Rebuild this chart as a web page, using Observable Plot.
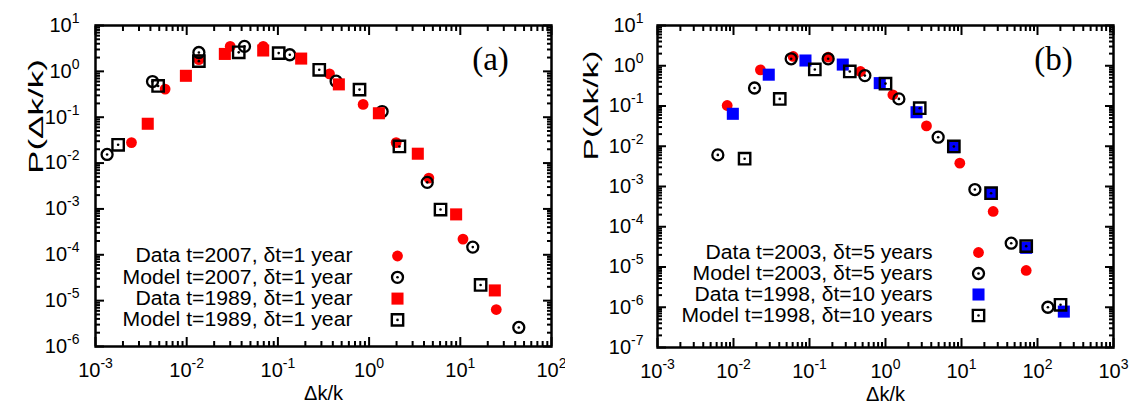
<!DOCTYPE html>
<html><head><meta charset="utf-8">
<script src="https://cdn.jsdelivr.net/npm/d3@7"></script>
<script src="https://cdn.jsdelivr.net/npm/@observablehq/plot@0.6"></script>
<style>
body{margin:0;background:#fff;}
#wrap{display:flex;width:1130px;height:410px;overflow:hidden;}
#wrap svg{display:block;overflow:visible;}
</style></head><body><div id="wrap"></div>
<script>
// ---------- Panel (a) data ----------
const aData2007X  = [0.00248, 0.0058, 0.0136, 0.030, 0.069, 0.368, 0.86, 1.98, 4.52, 10.7, 24.8];
const aData2007Y  = [0.028, 0.41, 1.8, 3.5, 3.5, 0.88, 0.19, 0.028, 0.0047, 2.2e-4, 6.4e-6];
const aModel2007X = [0.00134, 0.00422, 0.0136, 0.043, 0.135, 0.435, 1.39, 4.34, 13.7, 43.8];
const aModel2007Y = [0.0154, 0.60, 2.58, 3.5, 2.3, 0.61, 0.133, 0.0038, 1.47e-4, 2.6e-6];
const aData1989X  = [0.00374, 0.0098, 0.0262, 0.069, 0.18, 0.466, 1.28, 3.42, 9.0, 23.9];
const aData1989Y  = [0.072, 0.80, 2.4, 2.85, 1.9, 0.52, 0.122, 0.016, 7.6e-4, 1.67e-5];
const aModel1989X = [0.00177, 0.00486, 0.0136, 0.0372, 0.102, 0.284, 0.785, 2.15, 6.07, 16.7];
const aModel1989Y = [0.025, 0.48, 1.67, 2.6, 2.5, 1.08, 0.40, 0.023, 9.7e-4, 2.2e-5];
const aLegend = ["Data t=2007, \u03b4t=1 year", "Model t=2007, \u03b4t=1 year",
                 "Data t=1989, \u03b4t=1 year", "Model t=1989, \u03b4t=1 year"];

// ---------- Panel (b) data ----------
const bData2003X  = [0.00826, 0.0226, 0.061, 0.176, 0.469, 1.25, 3.46, 9.5, 26.1, 71];
const bData2003Y  = [0.103, 0.79, 1.7, 1.63, 0.72, 0.19, 0.032, 0.0038, 2.4e-4, 8.2e-6];
const bModel2003X = [0.00622, 0.0189, 0.0574, 0.176, 0.535, 1.5, 4.93, 15.0, 45.1, 137];
const bModel2003Y = [0.0061, 0.28, 1.49, 1.49, 0.57, 0.15, 0.0168, 8.4e-4, 3.9e-5, 1.0e-6];
const bData1998X  = [0.0098, 0.0291, 0.0885, 0.274, 0.84, 2.56, 7.93, 24.8, 71, 222];
const bData1998Y  = [0.064, 0.6, 1.35, 1.07, 0.37, 0.070, 0.0095, 6.6e-4, 3.0e-5, 7.8e-7];
const bModel1998X = [0.014, 0.0406, 0.1175, 0.339, 1.0, 2.82, 7.93, 24.5, 71, 201];
const bModel1998Y = [0.0049, 0.15, 0.81, 0.72, 0.36, 0.088, 0.0099, 6.8e-4, 3.3e-5, 1.15e-6];
const bLegend = ["Data t=2003, \u03b4t=5 years", "Model t=2003, \u03b4t=5 years",
                 "Data t=1998, \u03b4t=10 years", "Model t=1998, \u03b4t=10 years"];

// tick exponents
const aXExp = [-3, -2, -1, 0, 1, 2];
const aYExp = [-6, -5, -4, -3, -2, -1, 0, 1];
const bXExp = [-3, -2, -1, 0, 1, 2, 3];
const bYExp = [-7, -6, -5, -4, -3, -2, -1, 0, 1];

const SANS = "'Liberation Sans', Arial, Helvetica, sans-serif";
const SERIF = "'Liberation Serif', 'Times New Roman', serif";
const RED = "#ff0000", BLUE = "#0000ff";
const YTITLE = "P(\u0394k/k)", XTITLE = "\u0394k/k";

const zip = (xs, ys) => xs.map((x, i) => ({x, y: ys[i]}));
const majors = exps => exps.map(e => Math.pow(10, e));
const minors = exps => exps.slice(0, -1).flatMap(e => d3.range(2, 10).map(m => m * Math.pow(10, e)));

// symbol marks: kind = "dot" | "ring" | "sq" | "osq"
function sym(kind, color, data, extra) {
  const o = Object.assign({}, extra || {});
  if (data) { o.x = "x"; o.y = "y"; }
  const d = data || [0];
  if (kind === "dot") return [Plot.dot(d, {...o, r: 5.4, fill: color, stroke: null})];
  if (kind === "sq") return [Plot.dot(d, {...o, symbol: "square", r: 6.8, fill: color, stroke: null})];
  if (kind === "ring") return [
    Plot.dot(d, {...o, r: 5.5, fill: "none", stroke: "black", strokeWidth: 2.3}),
    Plot.dot(d, {...o, r: 1.3, fill: "black", stroke: null})];
  if (kind === "osq") return [
    Plot.dot(d, {...o, symbol: "square", r: 6.4, fill: "none", stroke: "black", strokeWidth: 2.4}),
    Plot.dot(d, {...o, r: 1.3, fill: "black", stroke: null})];
}

function panel(cfg) {
  const fmt = d => "E" + Math.round(Math.log10(d));
  const tickAxes = [];
  for (const [vals, len] of [[majors(cfg.xExp), 9], [minors(cfg.xExp), 5]]) {
    tickAxes.push(Plot.axisX(vals, {anchor: "bottom", tickSize: len, dy: -len, tickFormat: () => "", label: null, strokeWidth: 2}));
    tickAxes.push(Plot.axisX(vals, {anchor: "top", tickSize: len, dy: len, tickFormat: () => "", label: null, strokeWidth: 2}));
  }
  for (const [vals, len] of [[majors(cfg.yExp), 9], [minors(cfg.yExp), 5]]) {
    tickAxes.push(Plot.axisY(vals, {anchor: "left", tickSize: len, dx: len, tickFormat: () => "", label: null, strokeWidth: 2}));
    tickAxes.push(Plot.axisY(vals, {anchor: "right", tickSize: len, dx: -len, tickFormat: () => "", label: null, strokeWidth: 2}));
  }
  const legendMarks = [];
  cfg.legend.forEach((txt, i) => {
    const dy = cfg.legTop + cfg.legStep * i;
    legendMarks.push(Plot.text([txt], {frameAnchor: "top-left", dx: cfg.legTextX, dy, textAnchor: "end", lineAnchor: "middle", fontSize: 19.5, fill: "black"}));
    legendMarks.push(...sym(cfg.series[i].kind, cfg.series[i].color, null, {frameAnchor: "top-left", dx: cfg.legSymX, dy}));
  });
  const svg = Plot.plot({
    width: 565, height: 410,
    marginLeft: cfg.ml, marginRight: cfg.mr, marginTop: 25, marginBottom: cfg.mb,
    style: {fontFamily: SANS, fontSize: "20px", color: "black", background: "white", overflow: "visible"},
    x: {type: "log", domain: cfg.xDomain},
    y: {type: "log", domain: cfg.yDomain},
    marks: [
      ...cfg.series.flatMap(s => sym(s.kind, s.color, zip(s.xs, s.ys))),
      ...tickAxes,
      Plot.axisX(majors(cfg.xExp), {anchor: "bottom", tickSize: 0, tickPadding: 16, tickFormat: fmt, label: null, fontSize: 20}),
      Plot.axisY(majors(cfg.yExp), {anchor: "left", tickSize: 0, tickPadding: cfg.yPad, tickFormat: fmt, label: null, fontSize: 20}),
      Plot.frame({stroke: "black", strokeWidth: 2.5}),
      Plot.text([XTITLE], {frameAnchor: "bottom", dy: cfg.xTitleDy, lineAnchor: "middle", fontSize: 20}),
      Plot.text([YTITLE], {frameAnchor: "left", dx: cfg.yTitleDx, dy: cfg.yTitleDy, rotate: -90, lineAnchor: "middle", fontSize: 20}),
      Plot.text([cfg.tag], {frameAnchor: "top-right", dx: cfg.tagDx, dy: 34, textAnchor: "middle", lineAnchor: "middle", fontSize: 33, fontFamily: SERIF}),
      ...legendMarks
    ]
  });
  const ns = "http://www.w3.org/2000/svg";
  svg.querySelectorAll("text").forEach(t => {
    const s = t.textContent;
    // superscript exponents in tick labels
    const m = /^E(-?\d+)$/.exec(s);
    if (m) {
      t.textContent = "";
      const a = document.createElementNS(ns, "tspan"); a.textContent = "10";
      const b = document.createElementNS(ns, "tspan"); b.textContent = m[1];
      b.setAttribute("dy", "-9"); b.setAttribute("font-size", "14");
      t.append(a, b);
      return;
    }
    // stretch the wide text of the reference
    const li = cfg.legend.indexOf(s);
    const len = li >= 0 ? cfg.legLen[li] : (s === YTITLE ? cfg.yTitleLen : null);
    if (len) { t.setAttribute("textLength", len); t.setAttribute("lengthAdjust", "spacingAndGlyphs"); }
  });
  return svg;
}

const wrap = document.getElementById("wrap");
wrap.append(panel({
  ml: 95, mr: 14, mb: 64,
  xDomain: [1e-3, 1e2], yDomain: [1e-6, 1e1], xExp: aXExp, yExp: aYExp, yPad: 16,
  xTitleDy: 47, yTitleDx: -59, yTitleDy: -12, yTitleLen: 115, tag: "(a)", tagDx: -61,
  legend: aLegend, legLen: [217, 230, 217, 230], legTop: 230.5, legStep: 21.3, legTextX: 257, legSymX: 302,
  series: [
    {kind: "dot", color: RED, xs: aData2007X, ys: aData2007Y},
    {kind: "ring", color: "black", xs: aModel2007X, ys: aModel2007Y},
    {kind: "sq", color: RED, xs: aData1989X, ys: aData1989Y},
    {kind: "osq", color: "black", xs: aModel1989X, ys: aModel1989Y}
  ]
}));
wrap.append(panel({
  ml: 92, mr: 17, mb: 63,
  xDomain: [1e-3, 1e3], yDomain: [1e-7, 1e1], xExp: bXExp, yExp: bYExp, yPad: 14,
  xTitleDy: 47, yTitleDx: -66, yTitleDy: -26, yTitleLen: 110, tag: "(b)", tagDx: -60,
  legend: bLegend, legLen: [227, 240, 238, 251], legTop: 227, legStep: 21, legTextX: 275, legSymX: 321,
  series: [
    {kind: "dot", color: RED, xs: bData2003X, ys: bData2003Y},
    {kind: "ring", color: "black", xs: bModel2003X, ys: bModel2003Y},
    {kind: "sq", color: BLUE, xs: bData1998X, ys: bData1998Y},
    {kind: "osq", color: "black", xs: bModel1998X, ys: bModel1998Y}
  ]
}));
</script></body></html>
